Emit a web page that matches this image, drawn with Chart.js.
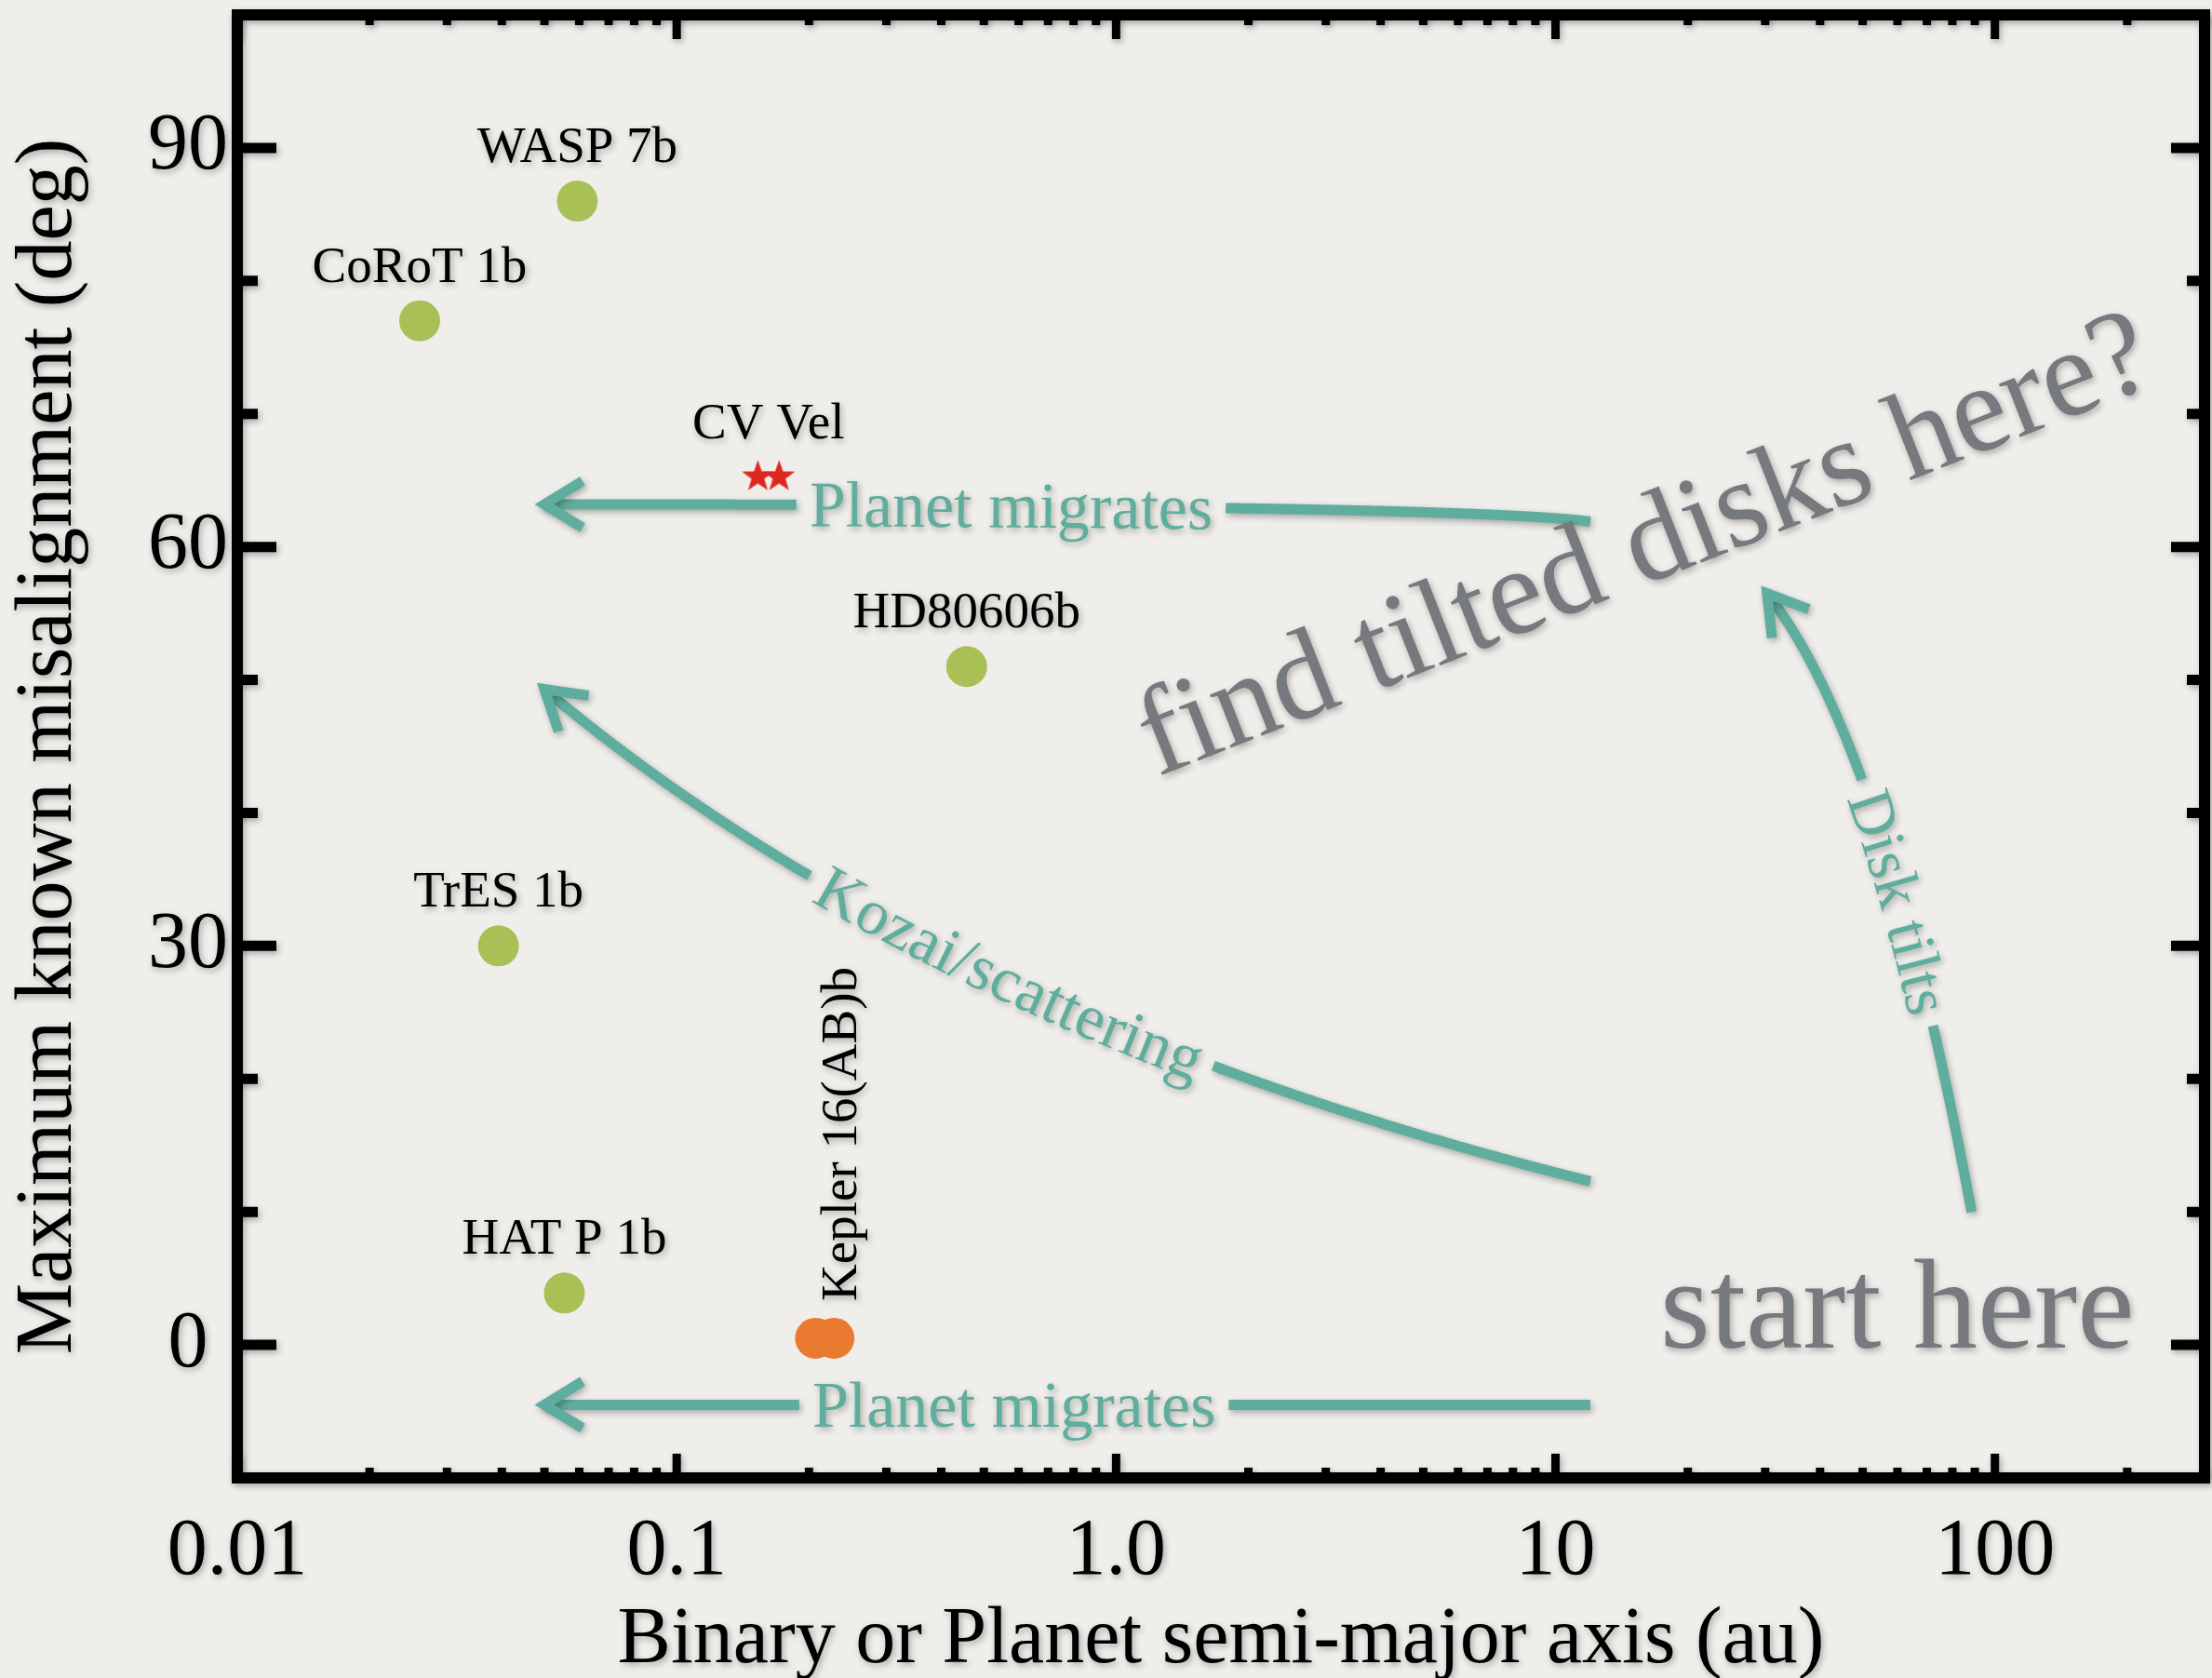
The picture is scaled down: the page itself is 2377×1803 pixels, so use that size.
<!DOCTYPE html>
<html>
<head>
<meta charset="utf-8">
<script src="https://cdn.jsdelivr.net/npm/chart.js@4.4.1/dist/chart.umd.min.js"></script>
<style>
  html, body { margin: 0; padding: 0; background: #EFEEEA; }
  canvas { display: block; }
</style>
</head>
<body>
<canvas id="chart" width="2377" height="1803"></canvas>
<script>
// planets with measured spin-orbit angles
const planetNames = ['CoRoT 1b', 'TrES 1b', 'HAT P 1b', 'WASP 7b', 'HD80606b'];
const planetAxis = [0.026, 0.0393, 0.0555, 0.0594, 0.457];
const planetTilt = [77, 30, 3.9, 86, 51];

// circumbinary planet (two stars of the binary)
const keplerAxis = [0.207, 0.228];
const keplerTilt = [0.5, 0.5];

// misaligned eclipsing binary
const cvVelAxis = [0.153, 0.171];
const cvVelTilt = [65.4, 65.4];

const xTickValues = [0.01, 0.1, 1, 10, 100];
const xTickLabels = ['0.01', '0.1', '1.0', '10', '100'];
const yTickValues = [0, 30, 60, 90];

// annotation arrows: tip, bend (quadratic control) and tail, in axis units
const arrowText = ['Planet migrates', 'Planet migrates', 'Kozai/scattering', 'Disk tilts'];
const arrowTip  = [[0.05, 63.2], [0.05, -4.5], [0.05, 49.3], [30.3, 56.5]];
const arrowBend = [[6.1, 63.2], [0.77, -4.5], [0.39, 24.5], [56, 45.3]];
const arrowTail = [[12, 61.9], [12, -4.5], [12, 12.3], [88.5, 10]];

const teal = '#5FAD9E';
const grey = '#76797D';
const serif = '"Liberation Serif", "Times New Roman", serif';

Chart.defaults.font.family = serif;
Chart.defaults.color = '#000';

function setShadow(ctx, on) {
  ctx.shadowColor = on ? 'rgba(0,0,0,0.3)' : 'rgba(0,0,0,0)';
  ctx.shadowBlur = on ? 7 : 0;
  ctx.shadowOffsetX = on ? 2 : 0;
  ctx.shadowOffsetY = on ? 3 : 0;
}

// filled five-point star used as the CV Vel marker
function makeStar(r, color) {
  const c = document.createElement('canvas');
  c.width = c.height = Math.ceil(r * 2 + 2);
  const g = c.getContext('2d');
  const cx = c.width / 2, cy = c.height / 2 + r * 0.1;
  g.beginPath();
  for (let i = 0; i < 10; i++) {
    const rad = i % 2 ? r * 0.4 : r;
    const a = -Math.PI / 2 + i * Math.PI / 5;
    g.lineTo(cx + rad * Math.cos(a), cy + rad * Math.sin(a));
  }
  g.closePath();
  g.fillStyle = color;
  g.fill();
  return c;
}

// sample a quadratic curve with running arc length
function curve(p0, c, p2) {
  const pts = [];
  let len = 0;
  for (let i = 0; i <= 400; i++) {
    const t = i / 400, u = 1 - t;
    const x = u * u * p0.x + 2 * u * t * c.x + t * t * p2.x;
    const y = u * u * p0.y + 2 * u * t * c.y + t * t * p2.y;
    if (i) len += Math.hypot(x - pts[i - 1].x, y - pts[i - 1].y);
    pts.push({x, y, s: len});
  }
  return pts;
}

function at(pts, s) {
  let i = 1;
  while (i < pts.length - 1 && pts[i].s < s) i++;
  const a = pts[i - 1], b = pts[i];
  const f = (s - a.s) / ((b.s - a.s) || 1);
  return {x: a.x + f * (b.x - a.x), y: a.y + f * (b.y - a.y), ang: Math.atan2(b.y - a.y, b.x - a.x)};
}

function strokeRange(ctx, pts, s0, s1) {
  const p = at(pts, s0), e = at(pts, s1);
  ctx.beginPath();
  ctx.moveTo(p.x, p.y);
  for (const q of pts) if (q.s > s0 && q.s < s1) ctx.lineTo(q.x, q.y);
  ctx.lineTo(e.x, e.y);
  ctx.stroke();
}

const arrowTextAt = [0.446, 0.449, 0.47, 0.515];
const arrowTextSize = [70, 70, 69, 68];

// keep the plot box where it is: no extra room for edge labels
function noEdgePadding(s) {
  s.paddingTop = 0;
  s.paddingBottom = 0;
  s.paddingLeft = 0;
  s.paddingRight = 0;
}

const frame = {
  id: 'frame',
  beforeDraw(chart) {
    setShadow(chart.ctx, true);
  },
  beforeDatasetsDraw(chart) {
    setShadow(chart.ctx, false);
  },
  afterDatasetsDraw(chart) {
    const {ctx, chartArea: a, scales: {x, y}} = chart;
    ctx.save();
    setShadow(ctx, true);

    // box and inward ticks on all four sides
    ctx.strokeStyle = '#000';
    ctx.lineWidth = 12;
    ctx.strokeRect(a.left, a.top, a.right - a.left, a.bottom - a.top);
    ctx.lineWidth = 11;
    for (let v = 0; v < 100; v += 10) {
      const major = yTickValues.includes(v);
      const py = y.getPixelForValue(v);
      ctx.beginPath();
      ctx.moveTo(a.left, py); ctx.lineTo(a.left + (major ? 42 : 22), py);
      ctx.moveTo(a.right, py); ctx.lineTo(a.right - (major ? 36 : 19), py);
      ctx.stroke();
    }
    ctx.lineWidth = 9;
    for (const d of xTickValues) {
      for (let m = 1; m <= 9; m++) {
        const v = d * m;
        if (v > x.max * 1.0001) break;
        const px = x.getPixelForValue(v);
        const len = m === 1 ? 26 : 11;
        ctx.beginPath();
        ctx.moveTo(px, a.bottom); ctx.lineTo(px, a.bottom - len);
        ctx.moveTo(px, a.top); ctx.lineTo(px, a.top + len);
        ctx.stroke();
      }
    }

    // point labels
    ctx.fillStyle = '#000';
    ctx.font = '55px ' + serif;
    ctx.textAlign = 'center';
    ctx.textBaseline = 'alphabetic';
    chart.getDatasetMeta(0).data.forEach((p, i) => {
      ctx.fillText(planetNames[i], p.x, p.y - 42);
    });
    const stars = chart.getDatasetMeta(2).data;
    ctx.fillText('CV Vel', (stars[0].x + stars[1].x) / 2, stars[0].y - 39);
    const kep = chart.getDatasetMeta(1).data;
    ctx.save();
    ctx.translate((kep[0].x + kep[1].x) / 2 + 34, kep[0].y - 40);
    ctx.rotate(-Math.PI / 2);
    ctx.textAlign = 'left';
    ctx.fillText('Kepler 16(AB)b', 0, 0);
    ctx.restore();

    // arrows with text set along the curve
    arrowText.forEach((txt, k) => {
      const pix = q => ({x: x.getPixelForValue(q[0]), y: y.getPixelForValue(q[1])});
      const pts = curve(pix(arrowTip[k]), pix(arrowBend[k]), pix(arrowTail[k]));
      const L = pts[pts.length - 1].s;
      const size = arrowTextSize[k];
      ctx.font = size + 'px ' + serif;
      const w = ctx.measureText(txt).width;
      const sc = arrowTextAt[k] * L;
      const gap = 14;
      ctx.strokeStyle = teal;
      ctx.fillStyle = teal;
      ctx.lineWidth = 11;
      ctx.lineCap = 'butt';
      ctx.lineJoin = 'miter';
      strokeRange(ctx, pts, 0, sc - w / 2 - gap);
      strokeRange(ctx, pts, sc + w / 2 + gap, L);

      // chevron head at the tip
      const t0 = pts[0], t1 = pts[4];
      const dir = Math.atan2(t0.y - t1.y, t0.x - t1.x);
      const barb = 48, spread = 0.55;
      ctx.beginPath();
      ctx.moveTo(t0.x + barb * Math.cos(dir + Math.PI - spread), t0.y + barb * Math.sin(dir + Math.PI - spread));
      ctx.lineTo(t0.x, t0.y);
      ctx.lineTo(t0.x + barb * Math.cos(dir + Math.PI + spread), t0.y + barb * Math.sin(dir + Math.PI + spread));
      ctx.stroke();

      ctx.textAlign = 'center';
      ctx.textBaseline = 'alphabetic';
      for (let i = 0; i < txt.length; i++) {
        const before = ctx.measureText(txt.slice(0, i)).width;
        const cw = ctx.measureText(txt[i]).width;
        const p = at(pts, sc - w / 2 + before + cw / 2);
        ctx.save();
        ctx.translate(p.x, p.y);
        ctx.rotate(p.ang);
        ctx.fillText(txt[i], 0, size * 0.33);
        ctx.restore();
      }
    });

    // big grey notes
    ctx.fillStyle = grey;
    ctx.textAlign = 'left';
    ctx.font = '138px ' + serif;
    ctx.fillText('start here', x.getPixelForValue(17.3), y.getPixelForValue(-0.2));
    ctx.save();
    ctx.translate(x.getPixelForValue(1.24), y.getPixelForValue(42.7));
    ctx.rotate(-21.5 * Math.PI / 180);
    ctx.font = '134px ' + serif;
    ctx.fillText('find tilted disks here?', 0, 0);
    ctx.restore();

    ctx.restore();
  }
};

const toPoints = (xs, ys) => xs.map((v, i) => ({x: v, y: ys[i]}));

new Chart(document.getElementById('chart').getContext('2d'), {
  type: 'scatter',
  data: {
    datasets: [
      {
        label: 'Planets',
        data: toPoints(planetAxis, planetTilt),
        backgroundColor: '#A9C056',
        borderWidth: 0,
        pointRadius: 22
      },
      {
        label: 'Kepler 16(AB)b',
        data: toPoints(keplerAxis, keplerTilt),
        backgroundColor: '#E97A30',
        borderWidth: 0,
        pointRadius: 22
      },
      {
        label: 'CV Vel',
        data: toPoints(cvVelAxis, cvVelTilt),
        pointStyle: makeStar(18, '#E0271F'),
        pointRadius: 18
      }
    ]
  },
  options: {
    responsive: false,
    animation: false,
    devicePixelRatio: 1,
    layout: { autoPadding: false, padding: { top: 16, right: 8, left: 0, bottom: 0 } },
    plugins: { legend: { display: false }, tooltip: { enabled: false } },
    scales: {
      x: {
        type: 'logarithmic',
        min: 0.01,
        max: 300,
        afterBuildTicks: s => { s.ticks = xTickValues.map(v => ({value: v})); },
        afterFit: s => { s.height = 215; noEdgePadding(s); },
        grid: { display: false, drawTicks: false },
        border: { display: false },
        ticks: {
          callback: (v, i) => xTickLabels[i],
          autoSkip: false,
          maxRotation: 0,
          padding: 37,
          color: '#000',
          font: { size: 86, lineHeight: 1 }
        },
        title: {
          display: true,
          text: 'Binary or Planet semi-major axis (au)',
          color: '#000',
          font: { size: 86, lineHeight: 1 },
          padding: { top: 0, bottom: -3 }
        }
      },
      y: {
        min: -10,
        max: 100,
        afterBuildTicks: s => { s.ticks = yTickValues.map(v => ({value: v})); },
        afterFit: s => { s.width = 255; noEdgePadding(s); },
        grid: { display: false, drawTicks: false },
        border: { display: false },
        ticks: {
          crossAlign: 'center',
          padding: 10,
          color: '#000',
          font: { size: 86, lineHeight: 1 }
        },
        title: {
          display: true,
          text: 'Maximum known misalignment (deg)',
          color: '#000',
          font: { size: 86, lineHeight: 1 },
          padding: { top: 10, bottom: 0 }
        }
      }
    }
  },
  plugins: [frame]
});
</script>
</body>
</html>
